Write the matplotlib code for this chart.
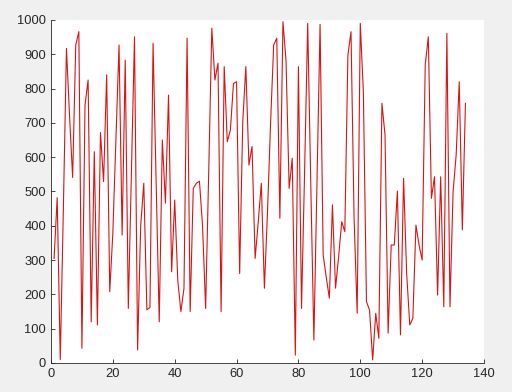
import matplotlib
matplotlib.use("Agg")
import matplotlib.pyplot as plt
import numpy as np

plt.rcParams['font.family'] = ['Liberation Sans', 'DejaVu Sans']

# values, x = 1..134
values = [
    305, 482, 10, 450, 917, 720, 541, 927, 966, 43,
    752, 825, 120, 616, 111, 672, 529, 840, 208, 380,
    650, 927, 373, 883, 159, 560, 951, 38, 400, 524,
    155, 162, 932, 530, 120, 650, 466, 781, 266, 475,
    240, 150, 218, 947, 150, 509, 524, 530, 400, 159,
    560, 976, 825, 874, 150, 864, 645, 679, 815, 820,
    261, 703, 864, 577, 631, 305, 410, 524, 218, 440,
    700, 927, 947, 422, 995, 880, 509, 597, 23, 864,
    159, 560, 990, 520, 67, 520, 987, 315, 250, 189,
    461, 218, 310, 412, 383, 898, 966, 420, 145, 990,
    790, 179, 154, 9, 145, 72, 757, 665, 87, 344,
    344, 501, 82, 538, 260, 111, 130, 402, 344, 300,
    869, 951, 480, 543, 198, 543, 164, 961, 164, 499,
    606, 820, 388, 757,
]
x = np.arange(1, len(values) + 1)

fig = plt.figure(figsize=(5.12, 3.92), dpi=100, facecolor='#f0f0f0')
ax = fig.add_axes([0.0996, 0.074, 0.8457, 0.875])
ax.set_facecolor('white')
ax.plot(x, values, color='#d81414', linewidth=0.8)

ax.set_xlim(0, 140)
ax.set_ylim(0, 1000)
ax.set_xticks(np.arange(0, 141, 20))
ax.set_yticks(np.arange(0, 1001, 100))
ax.tick_params(direction='in', length=3, width=0.6, labelsize=9.3,
               colors='#262626')
for side in ['top', 'right']:
    ax.spines[side].set_visible(False)
for side in ['left', 'bottom']:
    ax.spines[side].set_color('#262626')
    ax.spines[side].set_linewidth(0.6)

plt.savefig('out.png', dpi=100, facecolor=fig.get_facecolor())
